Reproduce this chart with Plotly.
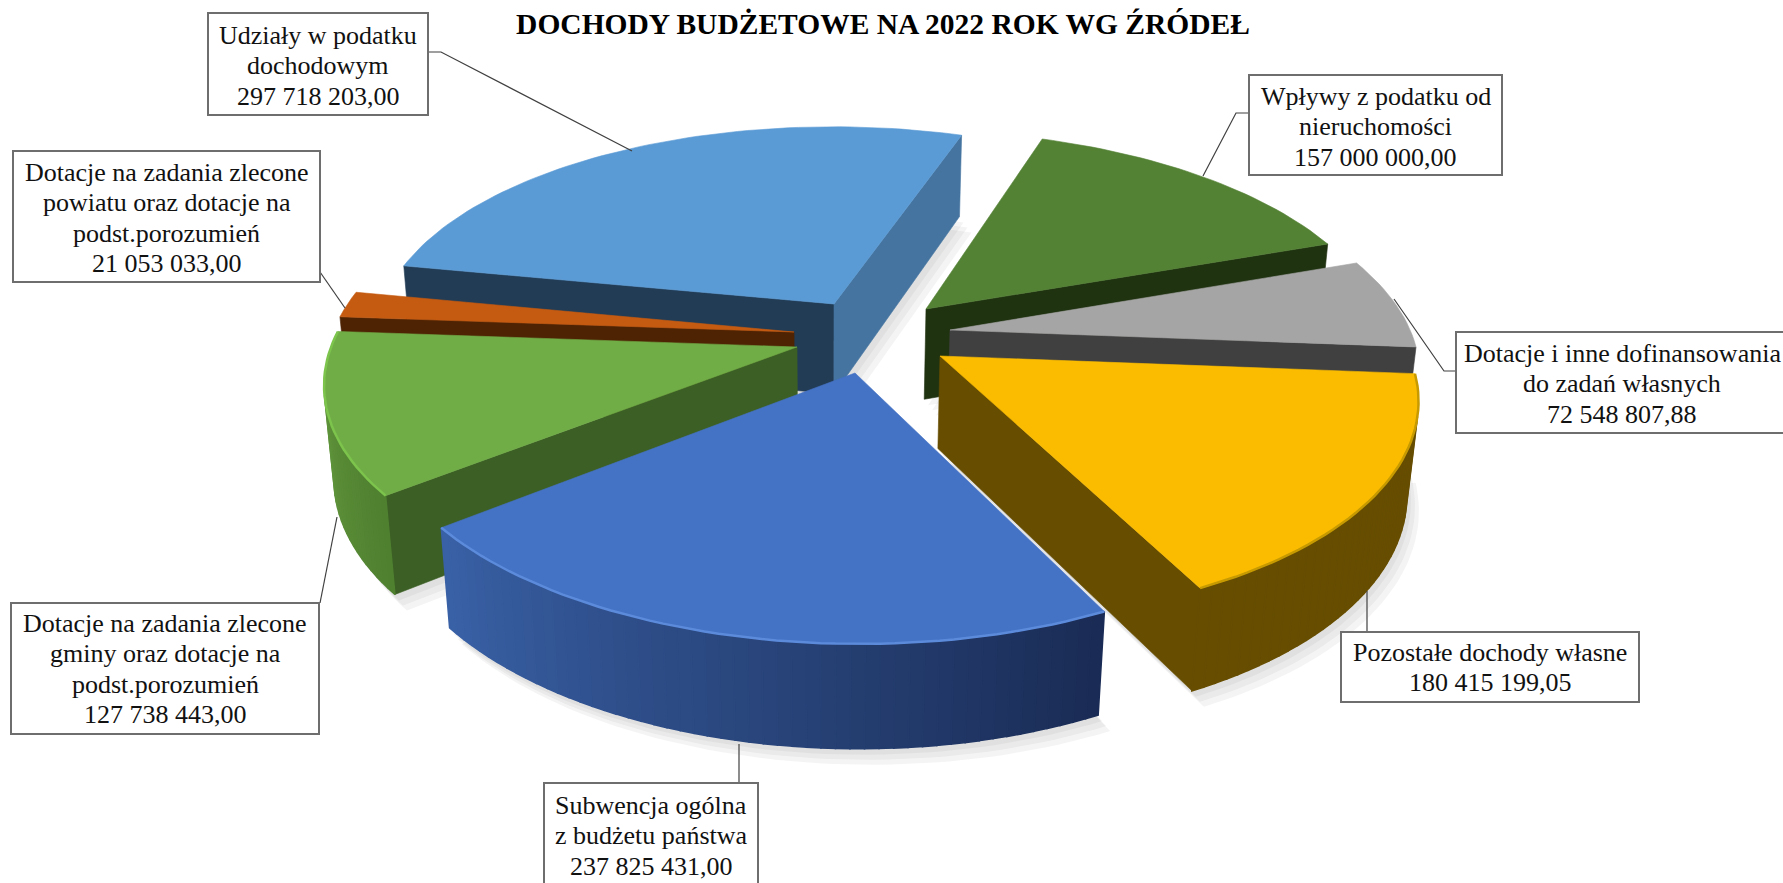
import math
import plotly.graph_objects as go

# ---- data (clockwise, starting at the dark green slice)
names = [
    "Wpływy z podatku od<br>nieruchomości",
    "Dotacje i inne dofinansowania<br>do zadań własnych",
    "Pozostałe dochody własne",
    "Subwencja ogólna<br>z budżetu państwa",
    "Dotacje na zadania zlecone<br>gminy oraz dotacje na<br>podst.porozumień",
    "Dotacje na zadania zlecone<br>powiatu oraz dotacje na<br>podst.porozumień",
    "Udziały w podatku<br>dochodowym",
]
values = [157000000.00, 72548807.88, 180415199.05, 237825431.00,
          127738443.00, 21053033.00, 297718203.00]
title_text = "DOCHODY BUDŻETOWE NA 2022 ROK WG ŹRÓDEŁ"

# ---- styling
top_colors = ["#548235", "#A5A5A5", "#FBBC00", "#4472C4", "#70AD47", "#C55A11", "#5B9BD5"]
start_face = ["#203311", "#404040", "#664D00", "#1A2C55", "#3C5F25", "#4E2304", "#223C55"]
end_face = ["#203311", "#404040", "#664D00", "#3A62A8", "#5E9438", "#4E2304", "#44749F"]
wall_from = ["#203311", "#404040", "#664D00", "#1A2C55", "#4F8030", "#4E2304", "#44749F"]
wall_to = ["#203311", "#404040", "#664D00", "#3A62A8", "#6A9F42", "#4E2304", "#44749F"]
rim = [None, None, "#C79A00", "#5C8BDC", "#7CC44C", None, None]
apex_px = [(926, 309), (950, 330), (940, 356), (855, 373), (797, 347), (794, 332), (834, 304)]
draw_order = [6, 0, 1, 5, 4, 2, 3]
shadowed = [6, 0, 2, 4, 3]
box_geom = [  # x0, y0, x1, y1
    (1249, 75, 1502, 175), (1456, 332, 1800, 433), (1341, 632, 1639, 702),
    (544, 783, 758, 895), (11, 603, 319, 734), (13, 151, 320, 282), (208, 13, 428, 115),
]
text_top = [81, 338, 637, 790, 608, 157, 20]
LINE_H = 30.5
leaders = [
    [(1249, 113), (1236, 113), (1203, 176)],
    [(1456, 371), (1444, 371), (1394, 299)],
    [(1367, 632), (1367, 591)],
    [(739, 783), (739, 744)],
    [(320, 603), (337, 517)],
    [(320, 272), (345, 308)],
    [(428, 52), (441, 52), (632, 151)],
]
START_ANGLE = 19.0
OX, OY = 830.0, 350.0
R_PX, D, ELEV, H = 467.0, 5.5, 28.0, 0.228
F = R_PX * D
E, C = math.sin(math.radians(ELEV)), math.cos(math.radians(ELEV))


def project(x, y, z):
    w = D - y * C - z * E
    return OX + F * x / w, OY + F * (y * E - z * C) / w


def unproject(sx, sy):
    v = (sy - OY) / F
    y = v * D / (E + v * C)
    w = D - y * C
    return (sx - OX) * w / F, y


def area(p):
    return sum(p[i][0] * p[(i + 1) % len(p)][1] - p[(i + 1) % len(p)][0] * p[i][1] for i in range(len(p)))


def mix(a, b, t):
    ca = [int(a[i:i + 2], 16) for i in (1, 3, 5)]
    cb = [int(b[i:i + 2], 16) for i in (1, 3, 5)]
    return "#%02x%02x%02x" % tuple(round(u + (v - u) * t) for u, v in zip(ca, cb))


fig = go.Figure()


def poly(pts, color, opacity=1.0, width=0.6):
    fig.add_trace(go.Scatter(
        x=[p[0] for p in pts] + [pts[0][0]], y=[p[1] for p in pts] + [pts[0][1]],
        mode="lines", fill="toself", fillcolor=color, opacity=opacity,
        line=dict(color=color, width=width), hoverinfo="skip", showlegend=False))


total = sum(values)
spans, a = [], START_ANGLE
for v in values:
    spans.append((a, a + v / total * 360.0))
    a += v / total * 360.0

for i in draw_order:
    a0, a1 = spans[i]
    ax, ay = unproject(*apex_px[i])
    n = max(2, int((a1 - a0) / 1.5))
    angs = [a0 + (a1 - a0) * k / n for k in range(n + 1)]
    pt = lambda ang, z: project(ax + math.sin(math.radians(ang)), ay - math.cos(math.radians(ang)), z)
    atop, abot = project(ax, ay, 0), project(ax, ay, -H)
    top_arc = [pt(t, 0) for t in angs]
    bot_arc = [pt(t, -H) for t in angs]
    # soft shadow
    if i in shadowed:
        for dx, dy in [(12, 16), (8, 11), (4, 6)]:
            poly([(x + dx, y + dy) for x, y in [abot] + bot_arc], "#808080", 0.09, width=0)
    # cut faces, with back-face culling
    f0 = [atop, top_arc[0], bot_arc[0], abot]
    f1 = [atop, abot, bot_arc[-1], top_arc[-1]]
    if area(f0) < 0:
        poly(f0, start_face[i])
    if area(f1) < 0:
        poly(f1, end_face[i])
    # outer wall, gradient along the angle
    for k in range(n):
        q = [top_arc[k], top_arc[k + 1], bot_arc[k + 1], bot_arc[k]]
        if area(q) < 0:
            poly(q, mix(wall_from[i], wall_to[i], k / n), width=1.6)
    # top face
    poly([atop] + top_arc, top_colors[i])
    if rim[i]:
        fig.add_trace(go.Scatter(x=[p[0] for p in top_arc], y=[p[1] for p in top_arc], mode="lines",
                                 line=dict(color=rim[i], width=2.5), hoverinfo="skip", showlegend=False))

annotations = []
shapes = []
for L in leaders:
    path = "M " + " L ".join(f"{x},{y}" for x, y in L)
    shapes.append(dict(type="path", path=path, xref="x", yref="y",
                       line=dict(color="#404040", width=1.2)))
for i, (nm, v) in enumerate(zip(names, values)):
    val = f"{v:,.2f}".replace(",", " ").replace(".", ",")
    x0, y0, x1, y1 = box_geom[i]
    shapes.append(dict(type="rect", x0=x0, y0=y0, x1=x1, y1=y1, xref="x", yref="y",
                       fillcolor="white", line=dict(color="#6E6E6E", width=2)))
    cx = (x0 + x1) / 2
    if i == 1:
        cx = 1622
    for j, line in enumerate(nm.split("<br>") + [val]):
        annotations.append(dict(
            x=cx, y=text_top[i] + j * LINE_H + LINE_H / 2, xref="x", yref="y",
            xanchor="center", yanchor="middle", showarrow=False, text=line,
            font=dict(family="Liberation Serif", size=26, color="#111111")))

fig.update_layout(
    width=1783, height=883, margin=dict(l=0, r=0, t=0, b=0),
    paper_bgcolor="white", plot_bgcolor="white", showlegend=False,
    xaxis=dict(range=[0, 1783], visible=False, fixedrange=True),
    yaxis=dict(range=[883, 0], visible=False, fixedrange=True),
    title=dict(text=f"<b>{title_text}</b>", x=883 / 1783, xanchor="center", xref="paper",
               y=1 - 24 / 883, yanchor="middle", yref="container",
               font=dict(family="Liberation Serif", size=29.5, color="#000000")),
    annotations=annotations, shapes=shapes,
)
fig.write_html("out.html", config=dict(displayModeBar=False),
               post_script="document.body.style.margin='0';document.body.style.overflow='hidden';")
